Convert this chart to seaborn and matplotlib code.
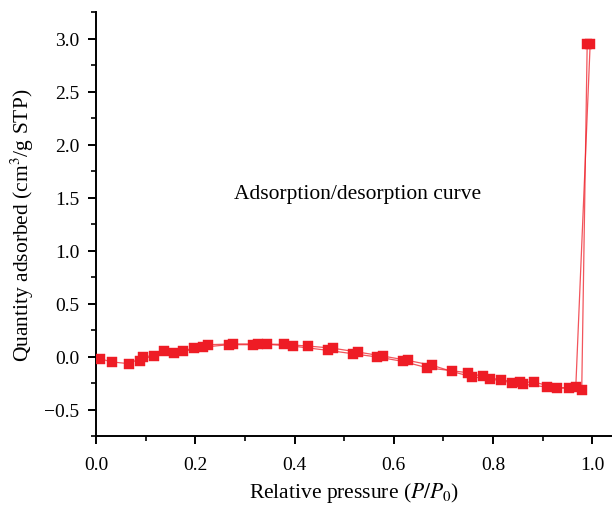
import matplotlib
matplotlib.use("Agg")
import matplotlib.pyplot as plt
from matplotlib.ticker import MultipleLocator
import pandas as pd
import seaborn as sns

# adsorption branch (low -> high P/P0)
ads_p = [0.008, 0.032, 0.067, 0.095, 0.117, 0.158, 0.198, 0.226, 0.277, 0.327,
         0.378, 0.428, 0.477, 0.527, 0.578, 0.628, 0.678, 0.717, 0.757, 0.794,
         0.838, 0.861, 0.909, 0.954, 0.979, 0.990]
ads_q = [-0.02, -0.05, -0.066, 0.0, 0.01, 0.03, 0.085, 0.113, 0.12, 0.12,
         0.116, 0.10, 0.08, 0.044, 0.006, -0.035, -0.082, -0.139, -0.19, -0.21,
         -0.245, -0.26, -0.286, -0.30, -0.31, 2.95]

# desorption branch (high -> low P/P0)
des_p = [0.996, 0.967, 0.930, 0.883, 0.855, 0.817, 0.779, 0.749, 0.667, 0.618,
         0.567, 0.517, 0.467, 0.396, 0.345, 0.317, 0.267, 0.216, 0.176, 0.137,
         0.089]
des_q = [2.95, -0.286, -0.296, -0.24, -0.24, -0.22, -0.186, -0.151, -0.104, -0.044,
         -0.003, 0.028, 0.06, 0.10, 0.116, 0.113, 0.113, 0.09, 0.05, 0.057,
         -0.04]

x_ticks = [0, 0.2, 0.4, 0.6, 0.8, 1.0]
x_labels = ["0.0", "0.2", "0.4", "0.6", "0.8", "1.0"]
y_ticks = [-0.5, 0, 0.5, 1.0, 1.5, 2.0, 2.5, 3.0]
y_labels = ["\u22120.5", "0.0", "0.5", "1.0", "1.5", "2.0", "2.5", "3.0"]

RED = "#ee1c25"


def main() -> None:
    sns.set_style("ticks")
    plt.rcParams["font.family"] = ["Liberation Serif", "DejaVu Serif"]
    plt.rcParams["mathtext.fontset"] = "stix"
    plt.rcParams["text.color"] = "black"
    plt.rcParams["axes.labelcolor"] = "black"
    plt.rcParams["xtick.color"] = "black"
    plt.rcParams["ytick.color"] = "black"

    fig = plt.figure(figsize=(6.12, 5.06), dpi=100)
    ax = fig.add_axes([0.157, 0.136, 0.843, 0.838])

    ads = pd.DataFrame({"p": ads_p, "q": ads_q})
    des = pd.DataFrame({"p": des_p, "q": des_q})
    for df in (ads, des):
        # thin connecting line, then the square markers on top
        sns.lineplot(data=df, x="p", y="q", sort=False, estimator=None, ax=ax,
                     color=RED, lw=0.9, alpha=0.75)
        sns.scatterplot(data=df, x="p", y="q", ax=ax, marker="s", s=52,
                        color=RED, edgecolor=RED, linewidth=0.3, zorder=3)

    ax.text(0.278, 1.54, "Adsorption/desorption curve", fontsize=15.5,
            va="center", ha="left")

    ax.set_xlim(0, 1.04)
    ax.set_ylim(-0.75, 3.25)
    ax.xaxis.set_minor_locator(MultipleLocator(0.1))
    ax.yaxis.set_minor_locator(MultipleLocator(0.25))
    ax.set_xticks(x_ticks)
    ax.set_xticklabels(x_labels)
    ax.set_yticks(y_ticks)
    ax.set_yticklabels(y_labels)

    ax.tick_params(which="major", direction="out", length=6, width=1.4,
                   labelsize=14, color="black", labelcolor="black", pad=6)
    ax.tick_params(which="minor", direction="out", length=3.5, width=1.2, color="black")
    ax.tick_params(axis="x", which="major", pad=8)
    for side in ("top", "right"):
        ax.spines[side].set_visible(False)
    for side in ("left", "bottom"):
        ax.spines[side].set_linewidth(1.4)
        ax.spines[side].set_color("black")

    ax.set_xlabel("Relative pressure ($P/P_0$)", fontsize=15.5, labelpad=5)
    ax.set_ylabel("Quantity adsorbed (cm$^3$/g STP)", fontsize=15.5, labelpad=6)

    fig.savefig("out.png", dpi=100)
    plt.close(fig)


if __name__ == "__main__":
    main()
